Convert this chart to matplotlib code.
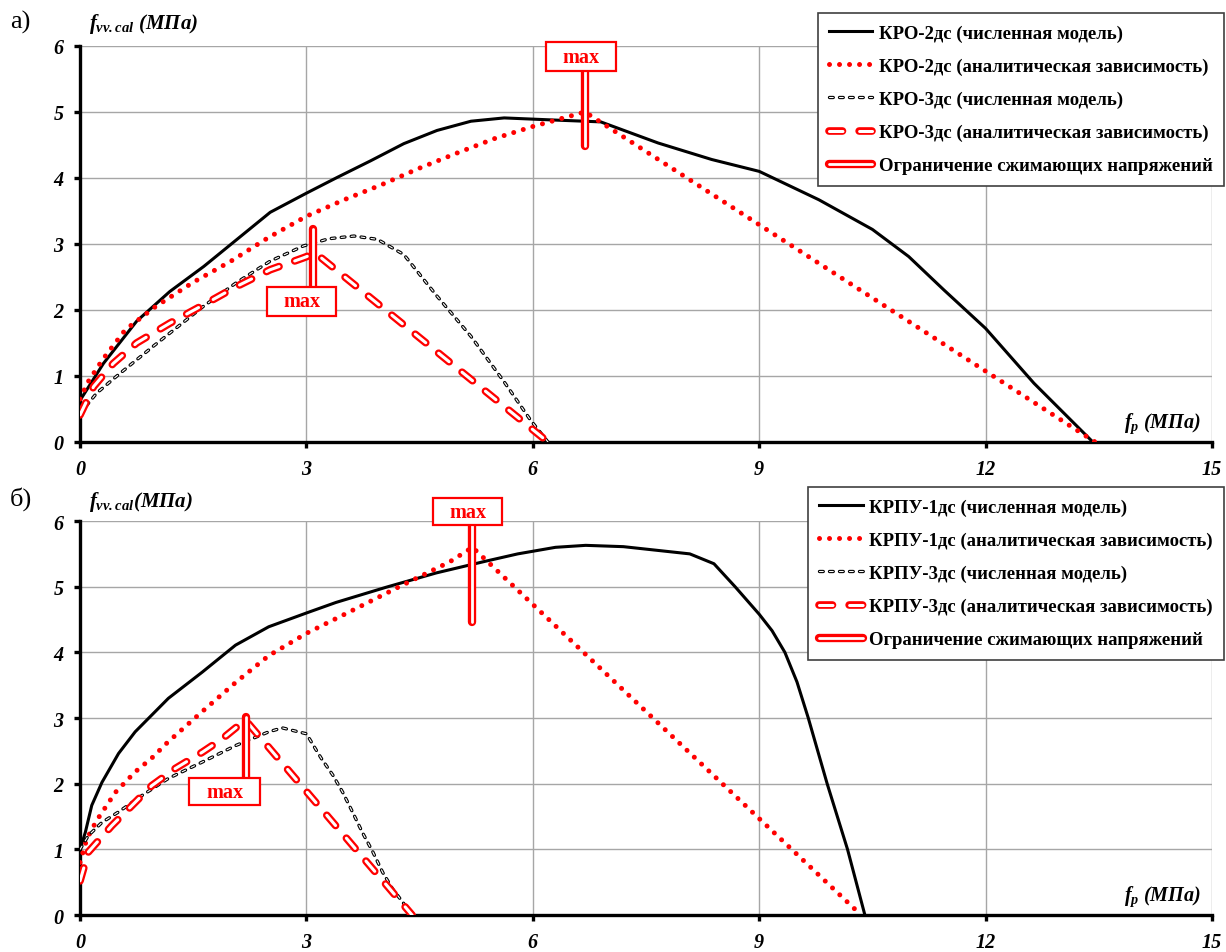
import numpy as np
import matplotlib
matplotlib.use('Agg')
import matplotlib.pyplot as plt
from matplotlib.patches import Rectangle

# шрифты
plt.rcParams['font.family'] = 'Liberation Serif'
plt.rcParams['mathtext.fontset'] = 'custom'
plt.rcParams['mathtext.it'] = 'Liberation Serif:italic:bold'
plt.rcParams['mathtext.rm'] = 'Liberation Serif:italic:bold'
plt.rcParams['lines.scale_dashes'] = False

# ---- данные: панель а) ----
kro2_num_x = [0, 0.31, 0.75, 1.19, 1.64, 2.08, 2.52, 3.0, 3.41, 3.85, 4.29, 4.73, 5.18, 5.62,
              6.24, 6.9, 7.66, 8.37, 9.0, 9.79, 10.5, 10.98, 11.45, 12.0, 12.64, 13.42]
kro2_num_y = [0.63, 1.19, 1.83, 2.28, 2.66, 3.07, 3.48, 3.77, 4.01, 4.26, 4.52, 4.72, 4.86, 4.91,
              4.88, 4.85, 4.53, 4.28, 4.10, 3.67, 3.22, 2.81, 2.30, 1.72, 0.89, 0.0]
kro2_ana_x = [0, 0.1, 0.3, 0.6, 1.0, 1.5, 2.0, 2.5, 3.0, 3.5, 4.0, 4.5, 5.0, 5.5, 6.0, 6.69, 13.45]
kro2_ana_y = [0.65, 0.9, 1.25, 1.7, 2.05, 2.42, 2.74, 3.1, 3.42, 3.67, 3.9, 4.15, 4.38, 4.6, 4.78, 5.0, 0.0]
kro3_num_x = [0, 0.22, 0.53, 0.97, 1.19, 1.64, 2.08, 2.52, 2.96, 3.3, 3.63, 3.94, 4.29, 4.73,
              5.18, 5.62, 5.97, 6.2]
kro3_num_y = [0.43, 0.74, 1.04, 1.45, 1.65, 2.06, 2.42, 2.74, 2.97, 3.08, 3.12, 3.07, 2.84, 2.21,
              1.60, 0.91, 0.33, 0.0]
kro3_ana_x = [0, 0.18, 0.44, 0.75, 1.19, 1.64, 2.08, 2.52, 2.96, 3.12, 6.2]
kro3_ana_y = [0.41, 0.84, 1.19, 1.50, 1.80, 2.08, 2.36, 2.61, 2.79, 2.86, 0.0]

# ---- данные: панель б) ----
krpu1_num_x = [0, 0.07, 0.155, 0.29, 0.51, 0.73, 1.17, 1.62, 2.06, 2.5, 3.0, 3.39, 4.05, 4.72,
               5.38, 5.8, 6.3, 6.7, 7.2, 7.6, 8.08, 8.4, 8.68, 9.0, 9.17, 9.34, 9.5, 9.65,
               9.9, 10.17, 10.4]
krpu1_num_y = [1.0, 1.26, 1.67, 2.02, 2.46, 2.79, 3.30, 3.70, 4.11, 4.39, 4.60, 4.76, 4.99, 5.21,
               5.39, 5.5, 5.6, 5.63, 5.61, 5.56, 5.5, 5.35, 5.0, 4.58, 4.33, 4.0, 3.55, 3.0,
               2.0, 1.0, 0.0]
krpu1_ana_x = [0, 0.09, 0.22, 0.47, 0.73, 0.95, 1.16, 1.62, 2.07, 2.5, 3.0, 3.61, 4.23, 4.90, 5.2, 10.35]
krpu1_ana_y = [0.8, 1.16, 1.44, 1.87, 2.18, 2.39, 2.63, 3.1, 3.55, 3.95, 4.29, 4.64, 5.0, 5.38, 5.6, 0.0]
krpu3_num_x = [0, 0.11, 0.29, 0.51, 0.82, 1.17, 1.62, 2.06, 2.5, 2.68, 3.0, 3.12, 3.2, 3.35,
               3.48, 3.61, 3.74, 3.88, 4.01, 4.14, 4.28, 4.39]
krpu3_num_y = [1.0, 1.21, 1.41, 1.57, 1.82, 2.08, 2.33, 2.58, 2.79, 2.85, 2.76, 2.53, 2.38, 2.13,
               1.87, 1.57, 1.26, 0.96, 0.65, 0.40, 0.19, 0.0]
krpu3_ana_x = [0, 0.11, 0.42, 0.69, 0.95, 1.26, 1.62, 1.88, 2.19, 4.4]
krpu3_ana_y = [0.52, 0.96, 1.36, 1.67, 1.97, 2.23, 2.48, 2.68, 2.97, 0.0]

labels_a = ['КРО-2дс (численная модель)', 'КРО-2дс (аналитическая зависимость)',
            'КРО-3дс (численная модель)', 'КРО-3дс (аналитическая зависимость)',
            'Ограничение сжимающих напряжений']
labels_b = ['КРПУ-1дс (численная модель)', 'КРПУ-1дс (аналитическая зависимость)',
            'КРПУ-3дс (численная модель)', 'КРПУ-3дс (аналитическая зависимость)',
            'Ограничение сжимающих напряжений']

# метки "max": x линии, конец линии, границы рамки (x0, x1, y0, y1)
max_a = [(6.69, 4.48, (6.17, 7.10, 5.62, 6.06)), (3.09, 3.23, (2.48, 3.39, 1.91, 2.35))]
max_b = [(5.20, 4.46, (4.68, 5.59, 5.94, 6.35)), (2.20, 3.02, (1.45, 2.38, 1.67, 2.09))]

RED = '#ff0000'


def hollow(ax, x, y, color, lw_out, lw_in, ls, z=3, clip=True):
    kw = dict(solid_capstyle='round', dash_capstyle='round', solid_joinstyle='round',
              dash_joinstyle='round', clip_on=clip)
    l1, = ax.plot(x, y, color=color, lw=lw_out, ls=ls, zorder=z, **kw)
    l2, = ax.plot(x, y, color='white', lw=lw_in, ls=ls, zorder=z + 0.1, **kw)
    return (l1, l2)


def panel(ax, num1, ana1, num3, ana3, markers, labels, leg_anchor):
    ax.set_xlim(0, 15)
    ax.set_ylim(0, 6)
    ax.set_xticks([0, 3, 6, 9, 12, 15])
    ax.set_yticks([0, 1, 2, 3, 4, 5, 6])
    ax.grid(True, color='#a6a6a6', lw=1.0)
    ax.set_axisbelow(True)
    for s in ['top', 'right']:
        ax.spines[s].set_visible(False)
    for s in ['left', 'bottom']:
        ax.spines[s].set_linewidth(2.4)
    ax.tick_params(direction='out', length=4, width=2.4, labelsize=14.5, pad=8)
    for lab in ax.get_xticklabels() + ax.get_yticklabels():
        lab.set_fontweight('bold')
        lab.set_fontstyle('italic')

    h1, = ax.plot(num1[0], num1[1], color='black', lw=2.2, solid_joinstyle='round', zorder=3)
    h2, = ax.plot(ana1[0], ana1[1], color=RED, lw=3.6, ls=(0, (0.01, 7.2)),
                  dash_capstyle='round', zorder=3)
    h3 = hollow(ax, num3[0], num3[1], 'black', 2.4, 0.8, (0, (2.7, 4.5)))
    h4 = hollow(ax, ana3[0], ana3[1], RED, 5.5, 2.2, (0, (9.7, 12)), z=4)

    for xm, yend, (bx0, bx1, by0, by1) in markers:
        yb = by0 if yend < by0 else by1
        hollow(ax, [xm, xm], [yb, yend], RED, 6, 2, '-', z=6, clip=False)
        ax.add_patch(Rectangle((bx0, by0), bx1 - bx0, by1 - by0, facecolor='white',
                               edgecolor=RED, lw=1.6, zorder=7, clip_on=False))
        ax.text((bx0 + bx1) / 2, (by0 + by1) / 2, 'max', color=RED, fontsize=14.5,
                fontweight='bold', ha='center', va='center', zorder=8, clip_on=False)

    h5 = (ax.plot([], [], color=RED, lw=6, solid_capstyle='round')[0],
          ax.plot([], [], color='white', lw=2, solid_capstyle='round')[0])

    leg = ax.figure.legend([h1, h2, h3, h4, h5], labels, loc='upper right',
                           bbox_to_anchor=leg_anchor, borderaxespad=0,
                           prop=dict(weight='bold', size=13.5),
                           handlelength=2.3, handletextpad=0.35, labelspacing=0.85,
                           borderpad=0.6, fancybox=False, framealpha=1,
                           edgecolor='#404040')
    leg.get_frame().set_linewidth(1.2)
    leg.set_zorder(10)

    ax.text(14.85, 0.1, r'$f_p$ (МПа)', fontsize=14.5, fontweight='bold',
            fontstyle='italic', ha='right', va='bottom')


fig = plt.figure(figsize=(12.26, 9.53), dpi=100)
ax_a = fig.add_axes([0.0653, 0.5352, 0.9233, 0.4155])
ax_b = fig.add_axes([0.0653, 0.0388, 0.9233, 0.4134])

panel(ax_a, (kro2_num_x, kro2_num_y), (kro2_ana_x, kro2_ana_y), (kro3_num_x, kro3_num_y),
      (kro3_ana_x, kro3_ana_y), max_a, labels_a, (1224 / 1226, 1 - 14 / 953))
panel(ax_b, (krpu1_num_x, krpu1_num_y), (krpu1_ana_x, krpu1_ana_y), (krpu3_num_x, krpu3_num_y),
      (krpu3_ana_x, krpu3_ana_y), max_b, labels_b, (1224 / 1226, 1 - 488 / 953))

fig.text(0.073, 1 - 24 / 953, r'$f_{vv.cal}$ (МПа)', fontsize=15, fontweight='bold',
         fontstyle='italic', ha='left', va='center')
fig.text(0.073, 1 - 502 / 953, r'$f_{vv.cal}$(МПа)', fontsize=15, fontweight='bold',
         fontstyle='italic', ha='left', va='center')
fig.text(0.008, 1 - 22 / 953, 'а)', fontsize=19, ha='left', va='center')
fig.text(0.008, 1 - 499 / 953, 'б)', fontsize=19, ha='left', va='center')

fig.savefig('out.png', dpi=100)
